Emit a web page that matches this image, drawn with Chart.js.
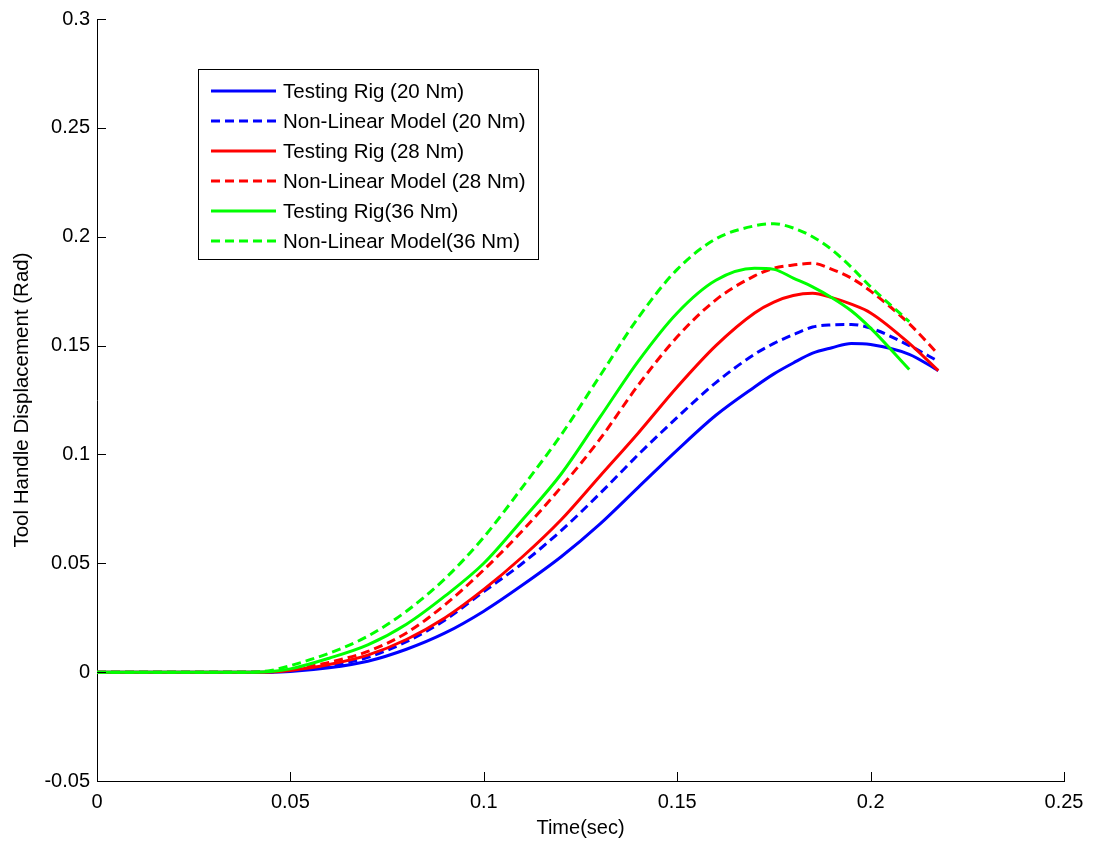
<!DOCTYPE html>
<html>
<head>
<meta charset="utf-8">
<script src="https://cdn.jsdelivr.net/npm/chart.js@4.4.1/dist/chart.umd.min.js"></script>
<style>
  html, body { margin: 0; padding: 0; background: #fff; }
  #wrap { width: 1093px; height: 846px; position: relative; }
</style>
</head>
<body>
<div id="wrap"><canvas id="torqueChart"></canvas></div>
<script>
// Time samples (sec) shared by all curves
const timeSec = [0, 0.04, 0.045, 0.05, 0.06, 0.07, 0.08, 0.09, 0.10, 0.11, 0.12, 0.13, 0.14, 0.15, 0.16, 0.17, 0.175, 0.18, 0.185, 0.19, 0.195, 0.20, 0.21, 0.2175];

// Tool handle displacement (rad)
const rig20   = [0, 0, 0, 0.0003, 0.002, 0.005, 0.0105, 0.018, 0.028, 0.040, 0.053, 0.068, 0.085, 0.102, 0.118, 0.131, 0.137, 0.142, 0.1465, 0.149, 0.151, 0.1505, 0.146, 0.1385];
const model20 = [0, 0, 0.0001, 0.0006, 0.0028, 0.0068, 0.014, 0.024, 0.037, 0.050, 0.065, 0.082, 0.100, 0.117, 0.133, 0.146, 0.151, 0.155, 0.1585, 0.1595, 0.1597, 0.158, 0.150, 0.1428];
const rig28   = [0, 0, 0.0001, 0.0008, 0.0035, 0.0078, 0.015, 0.025, 0.038, 0.053, 0.070, 0.090, 0.110, 0.131, 0.150, 0.165, 0.170, 0.173, 0.174, 0.172, 0.169, 0.165, 0.151, 0.1385];
const model28 = [0, 0, 0.0003, 0.0012, 0.0045, 0.0095, 0.018, 0.031, 0.047, 0.065, 0.085, 0.107, 0.132, 0.154, 0.171, 0.182, 0.1855, 0.187, 0.1878, 0.185, 0.181, 0.175, 0.160, 0.146];
const rig36   = [0, 0, 0.0003, 0.0015, 0.0064, 0.0125, 0.022, 0.035, 0.050, 0.070, 0.091, 0.117, 0.143, 0.165, 0.180, 0.1855, 0.185, 0.181, 0.177, 0.172, 0.166, 0.158, 0.139, null];
const model36 = [0, 0, 0.0008, 0.003, 0.0087, 0.0165, 0.028, 0.043, 0.062, 0.085, 0.109, 0.136, 0.163, 0.185, 0.199, 0.205, 0.206, 0.204, 0.200, 0.194, 0.186, 0.177, 0.161, null];

const seriesLabels = ['Testing Rig (20 Nm)', 'Non-Linear Model (20 Nm)', 'Testing Rig (28 Nm)', 'Non-Linear Model (28 Nm)', 'Testing Rig(36 Nm)', 'Non-Linear Model(36 Nm)'];
const xTicks = [0, 0.05, 0.1, 0.15, 0.2, 0.25];
const yTicks = [-0.05, 0, 0.05, 0.1, 0.15, 0.2, 0.25, 0.3];

const FONT = 'Liberation Sans, Arial, Helvetica, sans-serif';
const DASH = [9, 5];
const LINE_W = 3;

function makeSet(i, values, color, dashed) {
  return {
    label: seriesLabels[i],
    data: values.map((v, k) => ({ x: timeSec[k], y: v })),
    borderColor: color,
    borderWidth: LINE_W,
    borderDash: dashed ? DASH : [],
    pointRadius: 0,
    fill: false,
    cubicInterpolationMode: 'monotone',
    spanGaps: false,
    order: 6 - i
  };
}

// Inward tick marks like MATLAB axes
const inwardTicks = {
  id: 'inwardTicks',
  afterDatasetsDraw(chart) {
    const { ctx, chartArea, scales } = chart;
    ctx.save();
    ctx.strokeStyle = '#000';
    ctx.lineWidth = 1;
    ctx.beginPath();
    xTicks.forEach(v => {
      const px = Math.round(scales.x.getPixelForValue(v)) + 0.5;
      ctx.moveTo(px, chartArea.bottom);
      ctx.lineTo(px, chartArea.bottom - 9);
    });
    yTicks.forEach(v => {
      const py = Math.round(scales.y.getPixelForValue(v)) + 0.5;
      ctx.moveTo(chartArea.left, py);
      ctx.lineTo(chartArea.left + 9, py);
    });
    ctx.stroke();
    ctx.restore();
  }
};

// Boxed legend inside the plot, upper left
const boxLegend = {
  id: 'boxLegend',
  afterDraw(chart) {
    const { ctx, chartArea } = chart;
    const x0 = chartArea.left + 101, y0 = chartArea.top + 50;
    const w = 340, h = 190;
    ctx.save();
    ctx.fillStyle = '#fff';
    ctx.fillRect(x0, y0, w, h);
    ctx.strokeStyle = '#000';
    ctx.lineWidth = 1;
    ctx.strokeRect(x0 + 0.5, y0 + 0.5, w, h);
    ctx.font = '20.5px ' + FONT;
    ctx.textBaseline = 'middle';
    ctx.fillStyle = '#000';
    chart.data.datasets.forEach((ds, i) => {
      const y = y0 + 22 + i * 30;
      ctx.beginPath();
      ctx.strokeStyle = ds.borderColor;
      ctx.lineWidth = LINE_W;
      ctx.setLineDash(ds.borderDash);
      ctx.moveTo(x0 + 13, y);
      ctx.lineTo(x0 + 78, y);
      ctx.stroke();
      ctx.setLineDash([]);
      ctx.fillText(ds.label, x0 + 85, y + 1);
    });
    ctx.restore();
  }
};

function fmt(v) {
  return String(Number(v.toFixed(3)));
}

new Chart(document.getElementById('torqueChart'), {
  type: 'line',
  data: {
    datasets: [
      makeSet(0, rig20, '#0000ff', false),
      makeSet(1, model20, '#0000ff', true),
      makeSet(2, rig28, '#ff0000', false),
      makeSet(3, model28, '#ff0000', true),
      makeSet(4, rig36, '#00ff00', false),
      makeSet(5, model36, '#00ff00', true)
    ]
  },
  options: {
    responsive: true,
    maintainAspectRatio: false,
    animation: false,
    layout: { padding: { left: 0, right: 29, top: 17, bottom: 0 } },
    plugins: {
      legend: { display: false },
      tooltip: { enabled: false }
    },
    scales: {
      x: {
        type: 'linear',
        min: 0,
        max: 0.25,
        afterFit: (s) => { s.height = 65; },
        afterBuildTicks: (s) => { s.ticks = xTicks.map(v => ({ value: v })); },
        grid: { display: false, drawTicks: false },
        border: { display: true, color: '#000', width: 1 },
        ticks: { color: '#000', padding: 9, font: { family: FONT, size: 20 }, callback: fmt, maxRotation: 0 },
        title: { display: true, text: 'Time(sec)', color: '#000', font: { family: FONT, size: 20 }, padding: { top: 0, bottom: 6 } }
      },
      y: {
        type: 'linear',
        min: -0.05,
        max: 0.3,
        afterFit: (s) => { s.width = 97; },
        afterBuildTicks: (s) => { s.ticks = yTicks.map(v => ({ value: v })); },
        grid: { display: false, drawTicks: false },
        border: { display: true, color: '#000', width: 1 },
        ticks: { color: '#000', padding: 7, font: { family: FONT, size: 20 }, callback: fmt },
        title: { display: true, text: 'Tool Handle Displacement (Rad)', color: '#000', font: { family: FONT, size: 20.5 }, padding: { top: 10, bottom: 0 } }
      }
    }
  },
  plugins: [inwardTicks, boxLegend]
});
</script>
</body>
</html>
